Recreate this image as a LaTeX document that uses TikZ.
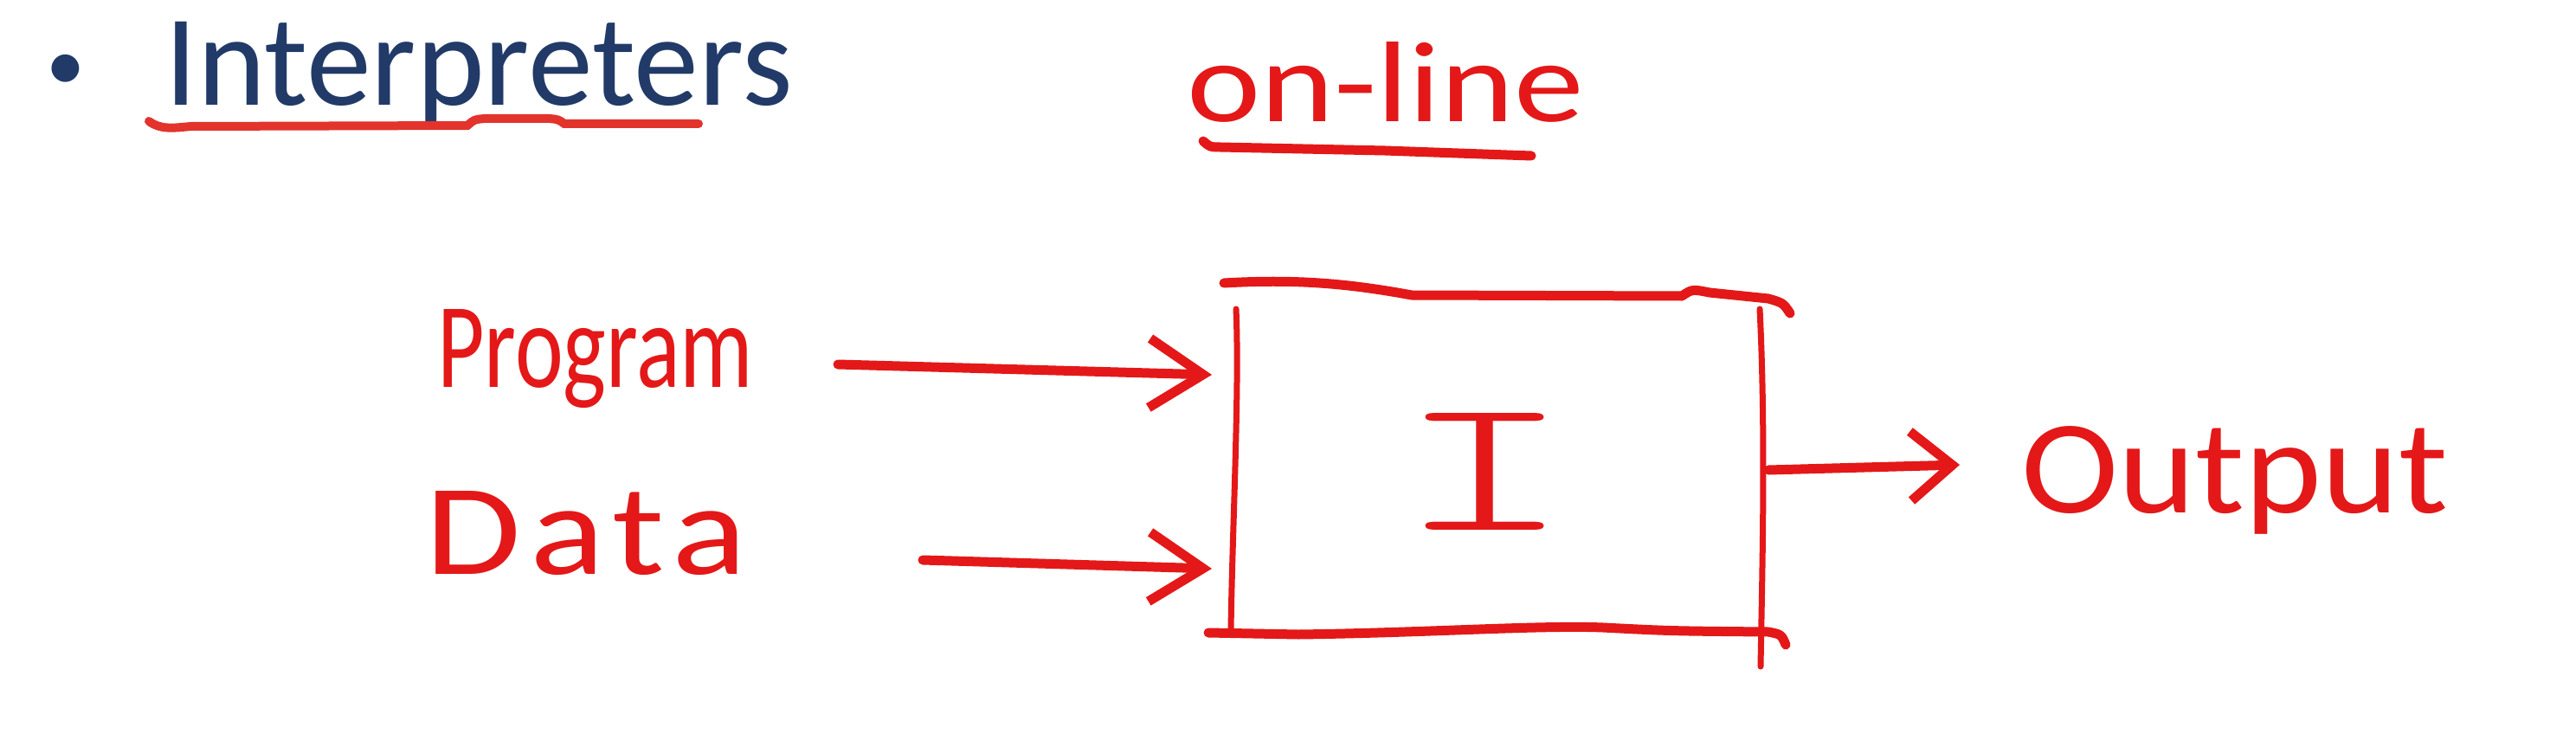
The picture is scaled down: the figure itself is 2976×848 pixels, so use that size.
\documentclass[tikz,border=0pt]{standalone}
\usepackage{fontspec}
\setmainfont{Carlito}
\newfontfamily\monofnt{lmmonolt10-regular.otf}
\usetikzlibrary{arrows.meta}
\definecolor{pen}{RGB}{228,24,24}
\definecolor{navy}{RGB}{33,58,104}
\definecolor{uline}{RGB}{226,52,44}
\begin{document}
\begin{tikzpicture}[x=1pt,y=-1pt,
  ink/.style={draw=pen, line width=11pt, line cap=round, line join=round},
  thin ink/.style={draw=pen, line width=7pt, line cap=round, line join=round},
  hand/.style={text=pen, inner sep=0pt, anchor=base west, font=\fontsize{100}{120}\selectfont},
  barb/.style={-{Straight Barb[length=62pt,width=80pt]}},
  title/.style={text=navy, inner sep=0pt}
]
\useasboundingbox[fill=white] (0,0) rectangle (2976,848);

% title
\node[title, anchor=base, font=\fontsize{90}{108}\selectfont] (bullet) at (76,105) {•};
\node[title, anchor=base west, font=\fontsize{150}{180}\selectfont] (ttl) at (190,122) {Interpreters};
\draw[draw=uline, line width=10pt, line cap=round]
  (172,140) .. controls (185,150) and (200,148) .. (220,146) -- (540,145)
  .. controls (548,138) .. (560,137) -- (635,137)
  .. controls (645,138) .. (652,143) -- (807,143);

% on-line
\node[hand] (online) at (1371,140) {\resizebox{459pt}{92pt}{on-line}};
\draw[ink] (1390,163) .. controls (1398,170) .. (1410,170) -- (1600,174) -- (1769,180);

% labels
\node[hand] (prog) at (505,447) {\resizebox{365pt}{90pt}{Program}};
\node[hand] (data) at (491,663) {\resizebox{372pt}{96pt}{\addfontfeature{LetterSpace=6}Data}};
\node[hand] (out) at (2335,592) {\resizebox{493pt}{100pt}{Output}};
\node[text=pen, inner sep=0pt, anchor=base, font=\fontsize{100}{120}\selectfont] (interp) at (1715,612)
  {\resizebox{200pt}{135pt}{\monofnt I}};

% box (hand drawn)
\draw[ink] (1414,327) .. controls (1500,322) and (1560,328) .. (1631,341)
  -- (1943,342) .. controls (1955,334) .. (1975,338) -- (2043,345)
  .. controls (2060,350) .. (2068,362);
\draw[thin ink] (1428,357) .. controls (1432,450) and (1424,600) .. (1422,727);
\draw[thin ink] (2033,357) .. controls (2040,500) and (2036,650) .. (2034,770);
\draw[ink] (1396,731) -- (1500,733) .. controls (1650,731) and (1780,722) .. (1852,725)
  .. controls (1930,729) .. (2043,730) .. controls (2058,733) .. (2063,745);

% connectors
\coordinate (pa) at (968,421);
\coordinate (pb) at (1400,433);
\coordinate (da) at (1066,647);
\coordinate (db) at (1400,657);
\coordinate (oa) at (2043,543);
\coordinate (ob) at (2264,537);
\draw[ink, barb] (pa) -- (pb);
\draw[ink, barb] (da) -- (db);
\draw[ink, -{Straight Barb[length=48pt,width=80pt]}] (oa) -- (ob);
\end{tikzpicture}
\end{document}
